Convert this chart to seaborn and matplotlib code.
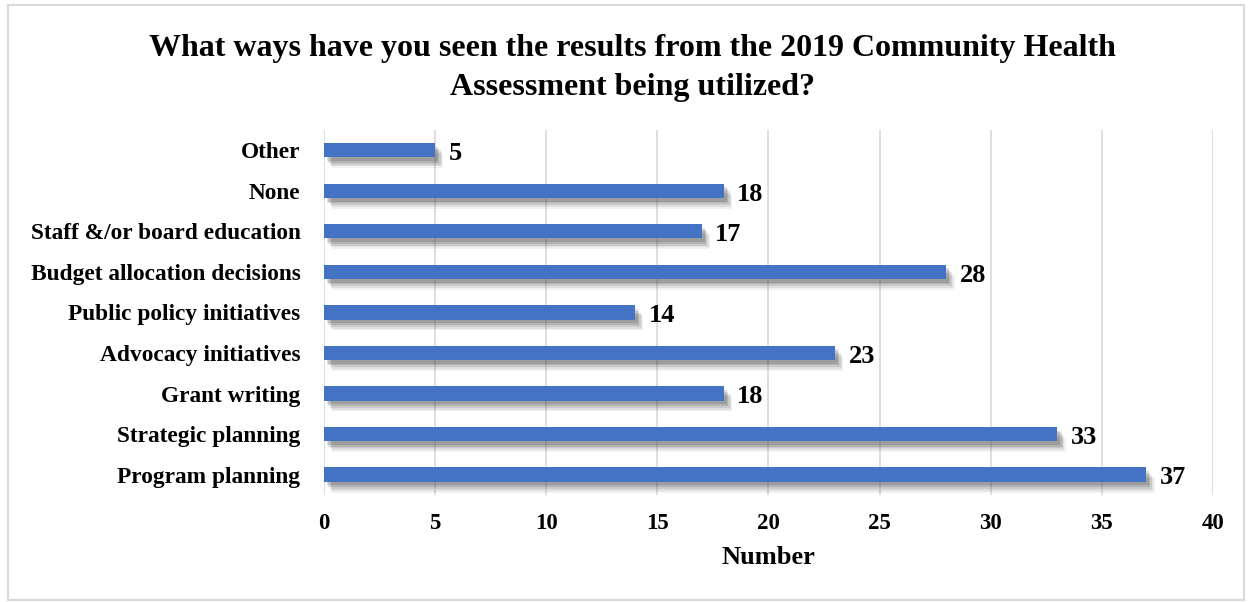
import pandas as pd
import matplotlib.pyplot as plt
import matplotlib.patheffects as pe
from matplotlib.patches import Rectangle
import seaborn as sns

# data
categories = ['Other', 'None', 'Staff &/or board education', 'Budget allocation decisions',
              'Public policy initiatives', 'Advocacy initiatives', 'Grant writing',
              'Strategic planning', 'Program planning']
counts = [5, 18, 17, 28, 14, 23, 18, 33, 37]

df = pd.DataFrame({'Use': categories, 'Number': counts})

sns.set_style('white')
plt.rcParams['font.family'] = ['Liberation Serif', 'DejaVu Serif']
plt.rcParams['font.weight'] = 'bold'
plt.rcParams['text.color'] = 'black'
plt.rcParams['xtick.color'] = 'black'
plt.rcParams['ytick.color'] = 'black'
plt.rcParams['axes.labelcolor'] = 'black'

fig = plt.figure(figsize=(12.52, 6.02), dpi=100)
ax = fig.add_axes([0.2588, 0.178, 0.710, 0.606])

sns.barplot(data=df, x='Number', y='Use', orient='h', color='#4472C4',
            saturation=1, width=0.35, linewidth=0, ax=ax, zorder=3)

# soft shadow under the bars (a few stacked layers)
shadow = [pe.SimplePatchShadow(offset=(o, -1.3 * o), shadow_rgbFace='#404040', alpha=a)
          for o, a in [(6, 0.07), (5, 0.10), (4, 0.13), (3, 0.16), (2, 0.18)]]
for bar in ax.patches:
    bar.set_path_effects(shadow + [pe.Normal()])

# value labels
for i, v in enumerate(counts):
    ax.text(v + 0.6, i + 0.08, str(v), va='center', ha='left',
            fontsize=19, fontweight='bold')

ax.set_xlim(0, 40)
ax.set_ylim(8.5, -0.5)
ax.set_xticks(range(0, 41, 5))
ax.grid(axis='x', color='#d9d9d9', linewidth=1.2, zorder=0)
ax.grid(axis='y', visible=False)
for s in ax.spines.values():
    s.set_visible(False)

ax.tick_params(axis='y', length=0, pad=17, labelsize=16.8)
ax.tick_params(axis='x', length=0, pad=13, labelsize=16.5)
for lbl in ax.get_xticklabels() + ax.get_yticklabels():
    lbl.set_fontweight('bold')

ax.set_ylabel('')
ax.set_xlabel('Number', fontsize=19, fontweight='bold', labelpad=9)

fig.suptitle('What ways have you seen the results from the 2019 Community Health\nAssessment being utilized?',
             fontsize=23, fontweight='bold', y=0.943, x=0.505, linespacing=1.42)

# light frame around the chart
fig.patches.append(Rectangle((0.006, 0.004), 0.988, 0.988, transform=fig.transFigure,
                             fill=False, edgecolor='#d9d9d9', linewidth=1.5))

plt.savefig('out.png', dpi=100)
